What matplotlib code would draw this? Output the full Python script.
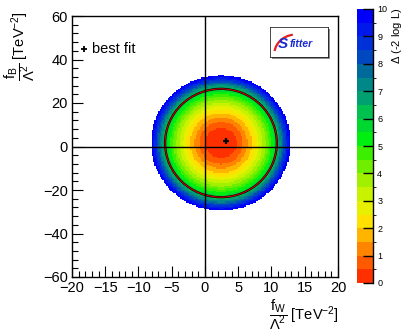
import numpy as np
import matplotlib
matplotlib.use('Agg')
import matplotlib.pyplot as plt
from matplotlib.colors import ListedColormap, BoundaryNorm
from matplotlib.patches import Ellipse, Rectangle, Arc
from matplotlib.ticker import MultipleLocator

plt.rcParams['font.family'] = ['Liberation Sans', 'DejaVu Sans']
plt.rcParams['mathtext.fontset'] = 'custom'
plt.rcParams['mathtext.rm'] = 'Liberation Sans'
plt.rcParams['mathtext.it'] = 'Liberation Sans:italic'
plt.rcParams['mathtext.bf'] = 'Liberation Sans:bold'

# likelihood map: centre and contour semi-axes in (f_W, f_B)
CENTER_X, CENTER_Y = 2.4, 1.6
SEMI_X, SEMI_Y = 8.4, 24.9

# Delta(-2 log L) band edges and the outer (normalised) radius of each band
LEVELS = np.arange(0, 10.5, 0.5)
BAND_RADII = [0.28, 0.39, 0.47, 0.55, 0.62, 0.68, 0.74, 0.80, 0.85, 0.90,
              0.95, 1.00, 1.03, 1.06, 1.09, 1.12, 1.15, 1.18, 1.21, 1.25]
BAND_COLORS = ['#ff3000', '#ff5a00', '#ff8400', '#ffb400', '#ffe000',
               '#e6f000', '#c8f200', '#a0f000', '#70ee00', '#3cee00',
               '#00ee10', '#00d830', '#00c050', '#00a070', '#008888',
               '#006a9a', '#0048c0', '#0030d8', '#0018ea', '#0000fa']

BEST_FIT = (3.1, 2.4)

XBINS = np.linspace(-20, 20, 201)
YBINS = np.linspace(-60, 60, 201)

xc = 0.5 * (XBINS[1:] + XBINS[:-1])
yc = 0.5 * (YBINS[1:] + YBINS[:-1])
X, Y = np.meshgrid(xc, yc)
rho = np.sqrt(((X - CENTER_X) / SEMI_X) ** 2 + ((Y - CENTER_Y) / SEMI_Y) ** 2)
band = np.searchsorted(BAND_RADII, rho)
mid = 0.5 * (LEVELS[1:] + LEVELS[:-1])
Z = np.full(rho.shape, np.nan)
inside = band < len(BAND_RADII)
Z[inside] = mid[band[inside]]

cmap = ListedColormap(BAND_COLORS)
cmap.set_bad((1, 1, 1, 0))
norm = BoundaryNorm(LEVELS, cmap.N)

W, H = 406, 333
fig = plt.figure(figsize=(W / 100, H / 100), dpi=100)
ax = fig.add_axes([72 / W, (H - 277) / H, 266 / W, 261 / H])

mesh = ax.pcolormesh(XBINS, YBINS, np.ma.masked_invalid(Z), cmap=cmap, norm=norm)

# 2D contour: scattered black points with a red fitted line
ax.add_patch(Ellipse((CENTER_X, CENTER_Y), 2 * SEMI_X, 2 * SEMI_Y, fill=False,
                     ec='k', lw=1.6, zorder=3))
ax.add_patch(Ellipse((CENTER_X, CENTER_Y), 2 * SEMI_X, 2 * SEMI_Y, fill=False,
                     ec='#e00000', lw=0.7, zorder=4))

ax.axhline(0, color='k', lw=1, zorder=5)
ax.axvline(0, color='k', lw=1, zorder=5)
ax.plot(*BEST_FIT, marker='+', color='k', ms=5, mew=1.6, zorder=6)

ax.set_xlim(-20, 20)
ax.set_ylim(-60, 60)
ax.xaxis.set_major_locator(MultipleLocator(5))
ax.xaxis.set_minor_locator(MultipleLocator(1))
ax.yaxis.set_major_locator(MultipleLocator(20))
ax.yaxis.set_minor_locator(MultipleLocator(4))
ax.tick_params(which='both', direction='in', top=False, right=False,
               labelsize=10.5, width=0.8)
ax.tick_params(which='major', length=8, pad=3)
ax.tick_params(which='minor', length=4)
for s in ax.spines.values():
    s.set_linewidth(1)

# legend entry
ax.plot(0.045, 0.874, marker='+', color='k', ms=4, mew=1.3,
        transform=ax.transAxes)
ax.text(0.075, 0.874, 'best fit', transform=ax.transAxes, fontsize=10.5,
        va='center', ha='left')

fig.text(339 / W, (H - 297) / H,
         r'$\dfrac{\mathrm{f}_\mathrm{W}}{\Lambda^2}$ [TeV$^{\mathrm{-2}}$]',
         fontsize=10.5, ha='right', va='top')
fig.text(20 / W, (H - 11) / H,
         r'$\dfrac{\mathrm{f}_\mathrm{B}}{\Lambda^2}$ [TeV$^{\mathrm{-2}}$]',
         fontsize=10.5, ha='center', va='top', rotation=90)

# logo box with a grey shadow
lx0, ly0, lw_, lh_ = 270 / W, (H - 57) / H, 58 / W, 30 / H
shadow = Rectangle((lx0 + 2 / W, ly0 - 2 / H), lw_, lh_,
                   transform=fig.transFigure, fc='#909090', ec='none')
fig.patches.append(shadow)
shadow.set_zorder(1)
lax = fig.add_axes([lx0, ly0, lw_, lh_])
lax.set_zorder(2)
lax.set_xlim(0, 1)
lax.set_ylim(0, 1)
lax.set_xticks([])
lax.set_yticks([])
for s in lax.spines.values():
    s.set_linewidth(0.5)
lax.add_patch(Arc((0.45, 0.1), 0.75, 1.3, theta1=95, theta2=165,
                  color='#e02020', lw=1.6))
lax.text(0.22, 0.42, 'S', color='#1a2ad0', fontsize=11, fontweight='bold',
         style='italic', ha='center', va='center')
lax.text(0.33, 0.42, 'fitter', color='#1a2ad0', fontsize=7.5,
         fontweight='bold', style='italic', ha='left', va='center')

# colour scale
cax = fig.add_axes([357 / W, (H - 283) / H, 16 / W, 274 / H])
cb = fig.colorbar(mesh, cax=cax, ticks=range(0, 11))
cb.outline.set_visible(False)
cax.tick_params(direction='in', length=7, width=1, right=True, left=False,
                labelsize=6.5, pad=3)
cax.axvline(1, color='k', lw=1, clip_on=False)
fig.text(397 / W, (H - 8) / H, r'$\Delta$ (-2 log L)', fontsize=8,
         rotation=90, ha='center', va='top')

fig.savefig('out.png', dpi=100)
